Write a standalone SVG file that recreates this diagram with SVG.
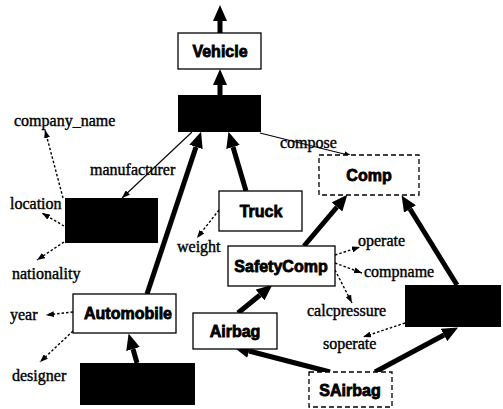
<svg xmlns="http://www.w3.org/2000/svg" width="503" height="409" viewBox="0 0 503 409">
  <defs>
    <!-- heavy inheritance arrowhead: base sits at the path end, tip 16px beyond -->
    <marker id="big" viewBox="0 0 16 14" refX="0" refY="7" markerWidth="16" markerHeight="14" markerUnits="userSpaceOnUse" orient="auto">
      <path d="M0,0 L16,7 L0,14 z" fill="#000"/>
    </marker>
    <!-- small arrowhead for reference and attribute links, tip at the path end -->
    <marker id="small" viewBox="0 0 8 6" refX="8" refY="3" markerWidth="8" markerHeight="6" markerUnits="userSpaceOnUse" orient="auto">
      <path d="M0,0 L8,3 L0,6 z" fill="#000"/>
    </marker>
    <style>
      .box { fill: #fff; stroke: #000; stroke-width: 1.3; }
      .dbox { fill: #fff; stroke: #000; stroke-width: 1.3; stroke-dasharray: 5 3; }
      .blk { fill: #000; stroke: none; }
      .lbl { font-family: "Liberation Sans", Arial, sans-serif; font-weight: bold; font-size: 16px; text-anchor: middle; fill: #000; stroke: #000; stroke-width: 0.8; }
      .attr { font-family: "Liberation Serif", "Times New Roman", serif; font-size: 16px; fill: #000; stroke: #000; stroke-width: 0.4; }
      .isa { fill: none; stroke: #000; stroke-width: 5; marker-end: url(#big); }
      .ref { fill: none; stroke: #000; stroke-width: 1.1; marker-end: url(#small); }
      .dot { fill: none; stroke: #000; stroke-width: 1.4; stroke-dasharray: 2.5 2; marker-end: url(#small); }
    </style>
  </defs>

  <!-- connectors -->
  <g id="connectors">
    <!-- inheritance -->
    <path class="isa" d="M220,33 L220,21"/>
    <path class="isa" d="M220,95 L220,85"/>
    <path class="isa" d="M147,294 L196,147"/>
    <path class="isa" d="M246,191 L233,147"/>
    <path class="isa" d="M137,363 L133,349"/>
    <path class="isa" d="M304,246 L337,207"/>
    <path class="isa" d="M457,285 L410,209"/>
    <path class="isa" d="M238,313 L260,295"/>
    <path class="isa" d="M330,372 L249,351"/>
    <path class="isa" d="M375,372 L444,335"/>
    <!-- references -->
    <path class="ref" d="M192,132 L122,198"/>
    <path class="ref" d="M260,133 L352,156"/>
    <!-- attributes -->
    <path class="dot" d="M63,198 L45,130"/>
    <path class="dot" d="M64,226 L42,213"/>
    <path class="dot" d="M64,242 L37,260"/>
    <path class="dot" d="M219,210 L197,238"/>
    <path class="dot" d="M335,255 L360,247"/>
    <path class="dot" d="M335,263 L362,273"/>
    <path class="dot" d="M335,270 L352,303"/>
    <path class="dot" d="M405,323 L363,337"/>
    <path class="dot" d="M73,312 L46,315"/>
    <path class="dot" d="M73,331 L40,362"/>
  </g>

  <!-- nodes -->
  <g id="vehicle">
    <rect class="box" x="178" y="33" width="83" height="36"/>
    <text class="lbl" x="220" y="57">Vehicle</text>
  </g>
  <g id="hidden-1">
    <rect class="blk" x="178" y="95" width="83" height="37"/>
  </g>
  <g id="hidden-2">
    <rect class="blk" x="65" y="198" width="93" height="45"/>
  </g>
  <g id="hidden-3">
    <rect class="blk" x="405" y="285" width="96" height="42"/>
  </g>
  <g id="hidden-4">
    <rect class="blk" x="80" y="363" width="115" height="42"/>
  </g>
  <g id="comp">
    <rect class="dbox" x="319" y="155" width="100" height="40"/>
    <text class="lbl" x="369" y="181">Comp</text>
  </g>
  <g id="truck">
    <rect class="box" x="219" y="191" width="83" height="40"/>
    <text class="lbl" x="261" y="217">Truck</text>
  </g>
  <g id="safetycomp">
    <rect class="box" x="228" y="246" width="107" height="40"/>
    <text class="lbl" x="281" y="272">SafetyComp</text>
  </g>
  <g id="automobile">
    <rect class="box" x="73" y="294" width="103" height="39"/>
    <text class="lbl" x="128" y="319">Automobile</text>
  </g>
  <g id="airbag">
    <rect class="box" x="193" y="313" width="84" height="36"/>
    <text class="lbl" x="235" y="337">Airbag</text>
  </g>
  <g id="sairbag">
    <rect class="dbox" x="309" y="372" width="83" height="35"/>
    <text class="lbl" x="350" y="396">SAirbag</text>
  </g>

  <!-- attribute and link labels -->
  <g id="labels">
    <text class="attr" x="14" y="126">company_name</text>
    <text class="attr" x="90" y="175">manufacturer</text>
    <text class="attr" x="280" y="148">compose</text>
    <text class="attr" x="10" y="209">location</text>
    <text class="attr" x="12" y="279">nationality</text>
    <text class="attr" x="177" y="252">weight</text>
    <text class="attr" x="358" y="246">operate</text>
    <text class="attr" x="364" y="277">compname</text>
    <text class="attr" x="307" y="316">calcpressure</text>
    <text class="attr" x="323" y="349">soperate</text>
    <text class="attr" x="10" y="320">year</text>
    <text class="attr" x="12" y="381">designer</text>
  </g>
</svg>
